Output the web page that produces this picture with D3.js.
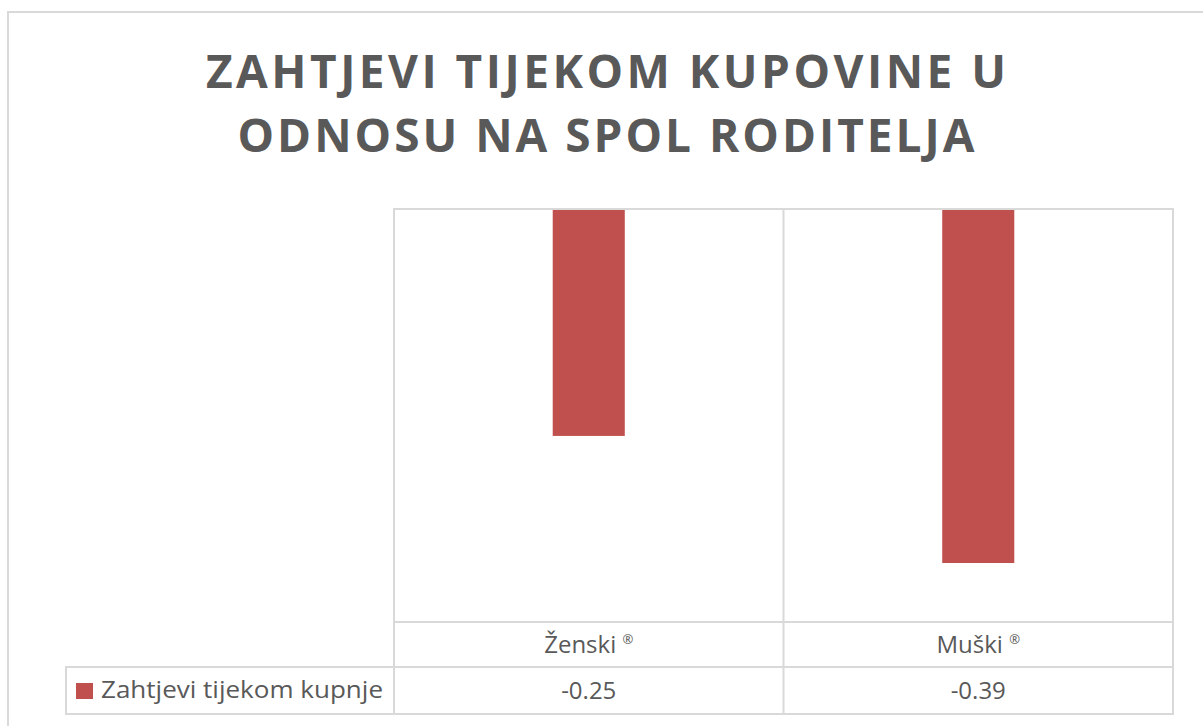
<!DOCTYPE html>
<html>
<head>
<meta charset="utf-8">
<script src="https://cdn.jsdelivr.net/npm/d3@7"></script>
<style>
  body { margin: 0; background: #fff; }
  svg { display: block; }
</style>
</head>
<body>
<div id="content"></div>
<script>
// Data.
var titleLines = ['ZAHTJEVI TIJEKOM KUPOVINE U', 'ODNOSU NA SPOL RODITELJA'];
var categories = ['Ženski ®', 'Muški ®'];
var values = [-0.25, -0.39];
var valueLabels = ['-0.25', '-0.39'];
var seriesName = 'Zahtjevi tijekom kupnje';

var width = 1203, height = 726;
var grid = '#d9d9d9', textColor = '#595959', barColor = '#c0504d';
var font = "'Open Sans', 'Noto Sans', sans-serif";

var svg = d3.select('#content')
              .append('svg')
              .attr('width', width)
              .attr('height', height);

// Outer chart frame (runs off the right/bottom of the picture).
svg.append('rect')
    .attr('x', 8).attr('y', 12)
    .attr('width', 1240).attr('height', 760)
    .attr('fill', '#fff')
    .attr('stroke', grid)
    .attr('stroke-width', 2);

// Title, spread out to the same widths as the original.
var titleSpecs = [{y : 88, len : 800}, {y : 152, len : 737}];
svg.selectAll('text.title')
    .data(titleLines)
    .enter()
    .append('text')
    .attr('class', 'title')
    .attr('x', 606)
    .attr('y', function(d, i) { return titleSpecs[i].y; })
    .attr('text-anchor', 'middle')
    .attr('font-family', font)
    .attr('font-weight', 'bold')
    .attr('font-size', 46)
    .attr('fill', textColor)
    .attr('textLength', function(d, i) { return titleSpecs[i].len; })
    .attr('lengthAdjust', 'spacing')
    .text(function(d) { return d; });

// Plot area.
var plot = {left : 394, right : 1173, top : 209, bottom : 622};
var row1 = 667, row2 = 714, legendLeft = 66;

var cells = d3.scaleBand()
                .domain(categories)
                .range([ plot.left, plot.right ]);

var x = d3.scaleBand()
            .domain(categories)
            .range([ plot.left, plot.right ])
            .paddingInner(0.815)
            .paddingOuter(0.4075);

var y = d3.scaleLinear()
            .domain([ -0.455, 0 ])
            .range([ plot.bottom, plot.top ]);

// Bars.
svg.selectAll('rect.bar')
    .data(values)
    .enter()
    .append('rect')
    .attr('class', 'bar')
    .attr('x', function(d, i) { return x(categories[i]); })
    .attr('y', y(0))
    .attr('width', x.bandwidth())
    .attr('height', function(d) { return y(d) - y(0); })
    .attr('fill', barColor);

// Grid of the plot area and data table.
var g = svg.append('g')
              .attr('stroke', grid)
              .attr('stroke-width', 2)
              .attr('fill', 'none');

g.append('rect')
    .attr('x', plot.left).attr('y', plot.top)
    .attr('width', plot.right - plot.left)
    .attr('height', row2 - plot.top);

g.selectAll('line.v')
    .data(categories.slice(1))
    .enter()
    .append('line')
    .attr('x1', function(d) { return cells(d); })
    .attr('x2', function(d) { return cells(d); })
    .attr('y1', plot.top)
    .attr('y2', row2);

g.append('line')
    .attr('x1', plot.left).attr('x2', plot.right)
    .attr('y1', plot.bottom).attr('y2', plot.bottom);

g.append('line')
    .attr('x1', legendLeft).attr('x2', plot.right)
    .attr('y1', row1).attr('y2', row1);

g.append('rect')
    .attr('x', legendLeft).attr('y', row1)
    .attr('width', plot.left - legendLeft)
    .attr('height', row2 - row1);

// Category labels, with the ® mark set small and raised.
var catText = svg.selectAll('text.cat')
                  .data(categories)
                  .enter()
                  .append('text')
                  .attr('x', function(d) { return cells(d) + cells.bandwidth() / 2; })
                  .attr('y', 653)
                  .attr('text-anchor', 'middle')
                  .attr('font-family', font)
                  .attr('font-size', 24)
                  .attr('fill', textColor);

catText.append('tspan')
    .text(function(d) { return d.replace(' ®', ' '); });

catText.append('tspan')
    .attr('font-size', 13)
    .attr('dy', -9)
    .text('®');

// Value labels.
svg.selectAll('text.val')
    .data(valueLabels)
    .enter()
    .append('text')
    .attr('x', function(d, i) { return cells(categories[i]) + cells.bandwidth() / 2; })
    .attr('y', 699)
    .attr('text-anchor', 'middle')
    .attr('font-family', font)
    .attr('font-size', 24)
    .attr('fill', textColor)
    .text(function(d) { return d; });

// Legend key.
svg.append('rect')
    .attr('x', 76).attr('y', 683)
    .attr('width', 17).attr('height', 16)
    .attr('fill', barColor);

svg.append('text')
    .attr('x', 101)
    .attr('y', 698)
    .attr('font-family', font)
    .attr('font-size', 24)
    .attr('fill', textColor)
    .attr('textLength', 282)
    .attr('lengthAdjust', 'spacingAndGlyphs')
    .text(seriesName);
</script>
</body>
</html>
